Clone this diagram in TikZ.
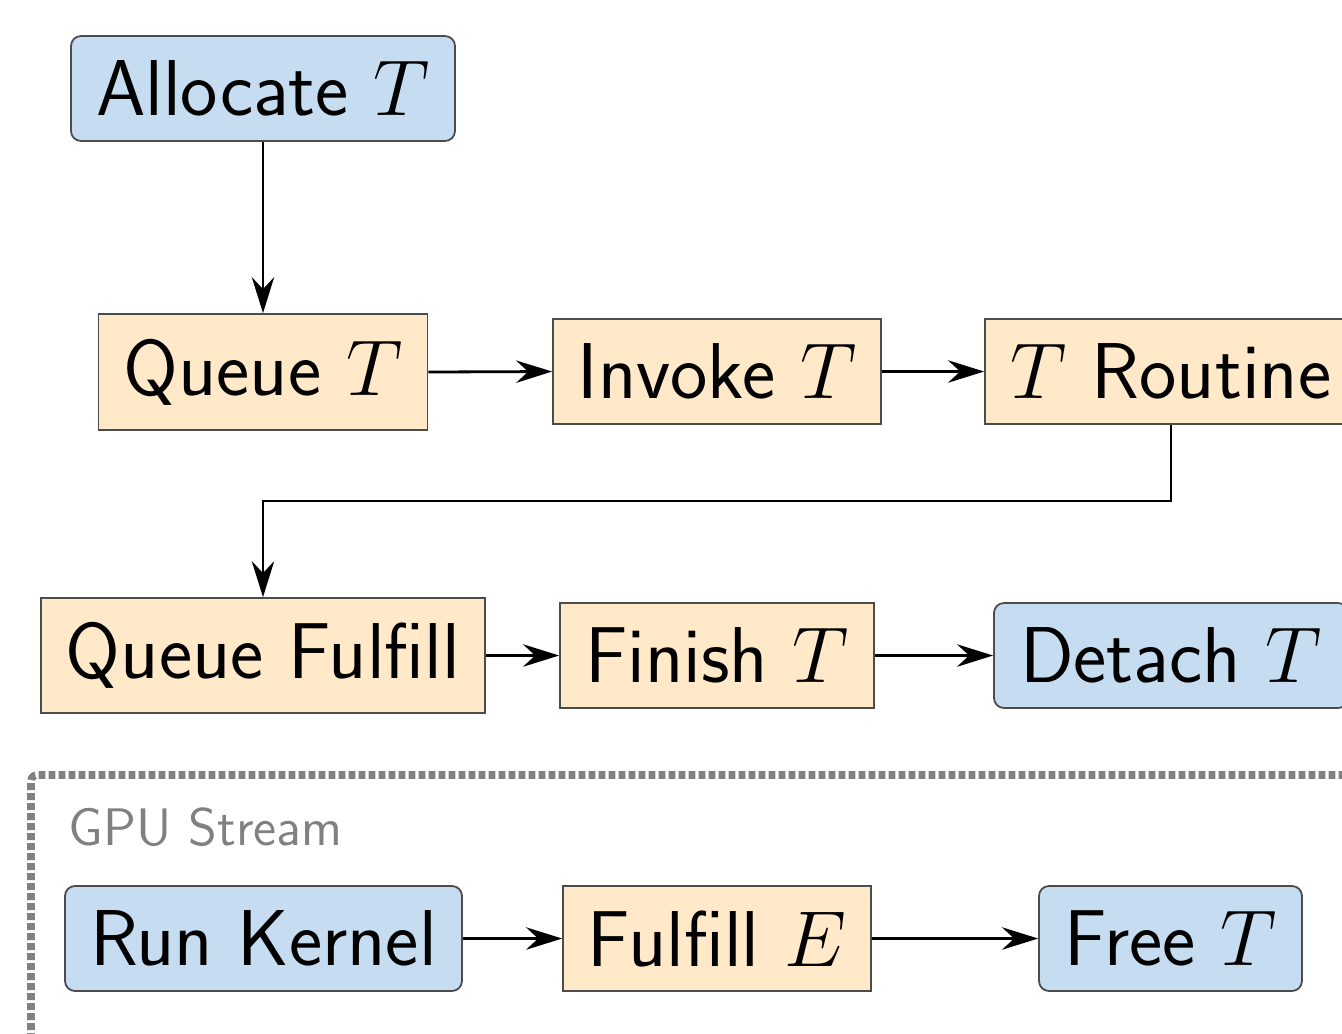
\RequirePackage{fix-cm}
\documentclass[tikz,border=0pt]{standalone}
\usepackage{fontspec}
\usetikzlibrary{arrows.meta}
\definecolor{hostblue}{RGB}{198,221,241}
\definecolor{workorange}{RGB}{255,233,201}
\definecolor{framegray}{RGB}{128,128,128}
\tikzset{
  base/.style={draw=black!70, line width=0.45pt, inner sep=0pt, minimum height=26.25pt,
    font=\fontsize{19.8}{24}\selectfont\sffamily},
  hostbox/.style={base, fill=hostblue, rounded corners=2.5pt},
  workbox/.style={base, fill=workorange},
  flow/.style={line width=0.7pt, -{Stealth[length=9pt,width=5.6pt,inset=3pt]}},
  streamframe/.style={draw=framegray, line width=1.9pt, dash pattern=on 1.7pt off 0.8pt, rounded corners=1.5pt},
  streamlabel/.style={text=framegray, font=\fontsize{13.2}{16}\selectfont\sffamily, anchor=base west, inner sep=0pt}
}
\begin{document}
\begin{tikzpicture}[x=0.25pt,y=-0.25pt]
\useasboundingbox (0,0) rectangle (1342,1033);
\clip (0,0) rectangle (1342,1033);

\node[hostbox, minimum width=96pt] (alloc) at (263,88.5) {Allocate $T$};
\node[workbox, minimum width=82.25pt, minimum height=29pt] (queue) at (263,372) {Queue $T$};
\node[workbox, minimum width=82pt] (invoke) at (717,371.5) {Invoke $T$};
\node[workbox, minimum width=93pt] (routine) at (1171,371.5) {$T$ Routine};

\node[workbox, minimum width=111pt, minimum height=28.75pt] (qfulfill) at (263,655.5) {Queue Fulfill};
\node[workbox, minimum width=78.5pt] (finish) at (717,655.5) {Finish $T$};
\node[hostbox, minimum width=88.5pt] (detach) at (1171,655.5) {Detach $T$};

\draw[streamframe] (31,1100) -- (31,775) -- (1420,775);
\node[streamlabel] (gpulabel) at (68,845) {GPU Stream};

\node[hostbox, minimum width=99.25pt] (kernel) at (263.5,938.5) {Run Kernel};
\node[workbox, minimum width=77pt] (fulfille) at (717,938.5) {Fulfill $E$};
\node[hostbox, minimum width=65.75pt] (free) at (1170.5,938.5) {Free $T$};

\draw[flow] (alloc.south) -- (queue.north);
\draw[flow] (queue.east) -- (invoke.west);
\draw[flow] (invoke.east) -- (routine.west);
\draw[flow] (routine.south) -- ++(0,76) -| (qfulfill.north);
\draw[flow] (qfulfill.east) -- (finish.west);
\draw[flow] (finish.east) -- (detach.west);
\draw[flow] (kernel.east) -- (fulfille.west);
\draw[flow] (fulfille.east) -- (free.west);
\end{tikzpicture}
\end{document}
